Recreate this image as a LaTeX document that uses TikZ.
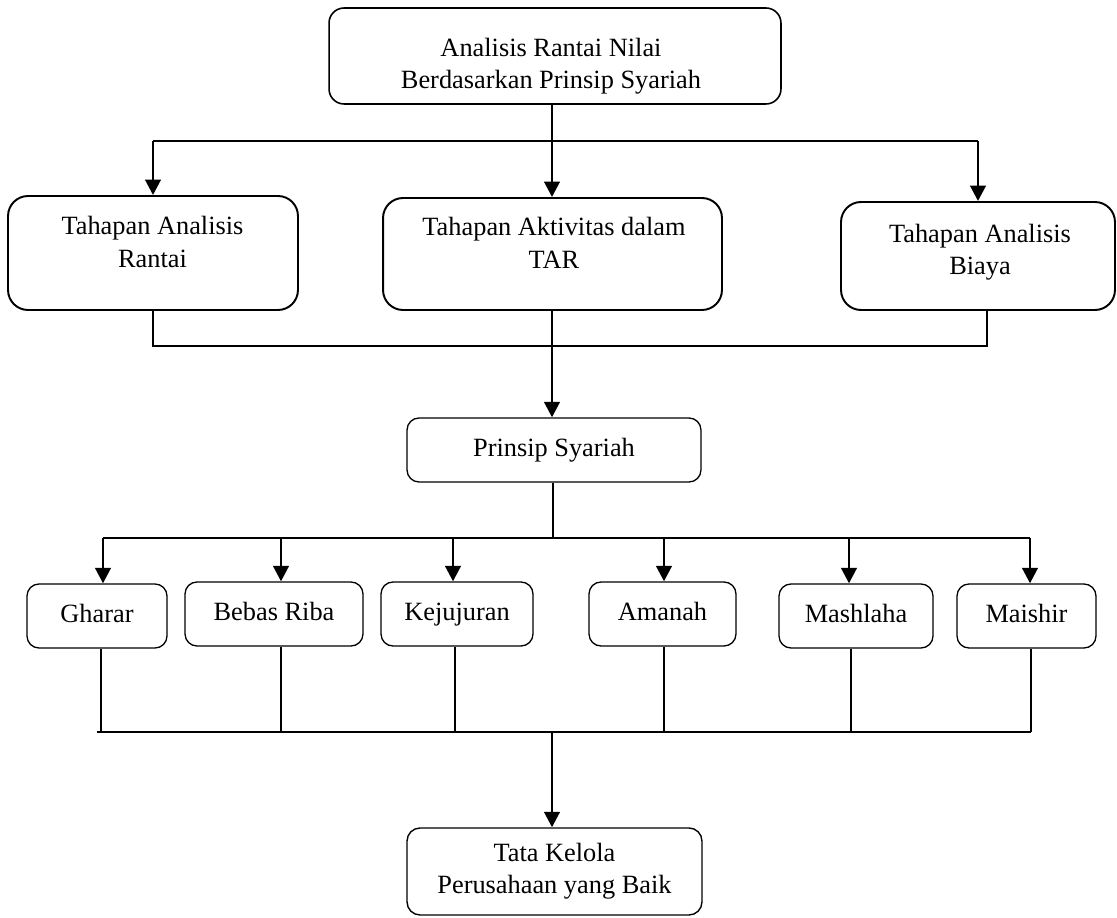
\documentclass[tikz,border=0pt]{standalone}
\usepackage{fontspec}
\setmainfont{Liberation Serif}
\usetikzlibrary{arrows.meta, positioning}

\begin{document}
\begin{tikzpicture}[x=0.02cm, y=-0.02cm,
  >={Triangle[length=0.31cm,width=0.31cm]},
  every node/.style={font=\fontsize{15}{18.4}\selectfont},
  txt/.style={align=center, inner sep=0pt},
  box/.style={draw, line width=0.75pt, rounded corners=0.24cm, inner sep=0pt, align=center},
  rowbox/.style={box, text height=10.2pt, text depth=3.3pt, minimum height=1.28cm},
  bigbox/.style={box, line width=1.1pt, rounded corners=0.4cm},
  link/.style={line width=1.1pt},
  arr/.style={->, line width=1.6pt}]
  \useasboundingbox (0,0) rectangle (1117,918);

  % top box
  \node[box, line width=0.9pt, rounded corners=0.3cm, minimum width=9.04cm, minimum height=1.92cm] (top) at (555,56) {};
  \node[txt] (topT) at (551,66) {Analisis Rantai Nilai\\Berdasarkan Prinsip Syariah};

  % three stages
  \node[bigbox, minimum width=5.8cm, minimum height=2.28cm] (tar) at (153,253) {};
  \node[txt] (tarT) at (152.5,242) {Tahapan Analisis\\Rantai};
  \node[bigbox, minimum width=6.78cm, minimum height=2.24cm] (tak) at (552.5,254) {};
  \node[txt] (takT) at (554,243) {Tahapan Aktivitas dalam\\TAR};
  \node[bigbox, minimum width=5.48cm, minimum height=2.16cm] (tab) at (978,256) {};
  \node[txt] (tabT) at (980,252) {Tahapan Analisis\\Biaya};

  % branch to the stages
  \coordinate (jA) at (552,141);
  \draw[link] (jA |- top.south) -- (jA);
  \draw[link] (tar.north |- jA) -- (tab.north |- jA);
  \draw[arr] (tar.north |- jA) -- (tar.north);
  \draw[arr] (jA) -- (jA |- tak.north);
  \draw[arr] (tab.north |- jA) -- (tab.north);

  % join below the stages
  \coordinate (jB) at (552,346);
  \coordinate (jBr) at (987,346);
  \draw[link] (tar.south) -- (tar.south |- jB) -- (jBr) -- (jBr |- tab.south);

  \node[rowbox, minimum width=5.88cm] (prinsip) at (554,450) {Prinsip Syariah};
  \draw[arr] (jB |- tak.south) -- (jB |- prinsip.north);

  % the six principles
  \node[rowbox, minimum width=2.8cm] (gharar) at (97,616) {Gharar};
  \node[rowbox, minimum width=3.56cm] (bebas) at (274,614) {Bebas Riba};
  \node[rowbox, minimum width=3.04cm] (keju) at (457,614) {Kejujuran};
  \node[rowbox, minimum width=2.94cm] (amanah) at (662.5,614) {Amanah};
  \node[rowbox, minimum width=3.08cm] (mashlaha) at (856,616) {Mashlaha};
  \node[rowbox, minimum width=2.78cm] (maishir) at (1026.5,616) {Maishir};

  \coordinate (jC) at (553,538);
  \coordinate (jCl) at (103,538);
  \coordinate (jCr) at (1030,538);
  \draw[link] (jC |- prinsip.south) -- (jC);
  \draw[link] (jCl) -- (jCr);

  \coordinate (jD) at (552,732);
  \coordinate (jDl) at (97,732);
  \coordinate (jDr) at (1031,732);
  \draw[link] (jDl) -- (jDr);

  \foreach \n/\xa/\xb in {gharar/103/101, bebas/281/281, keju/453/455,
                          amanah/664/664, mashlaha/849/851, maishir/1030/1031} {
    \draw[arr] (\xa,538) -- (\xa,538 |- \n.north);
    \draw[link] (\xb,538 |- \n.south) -- (\xb,732);
  }

  % result
  \node[box, line width=0.8pt, rounded corners=0.26cm, minimum width=5.9cm, minimum height=1.74cm] (good) at (554.5,871.5) {Tata Kelola\\Perusahaan yang Baik};
  \draw[arr] (jD) -- (jD |- good.north);
\end{tikzpicture}
\end{document}
